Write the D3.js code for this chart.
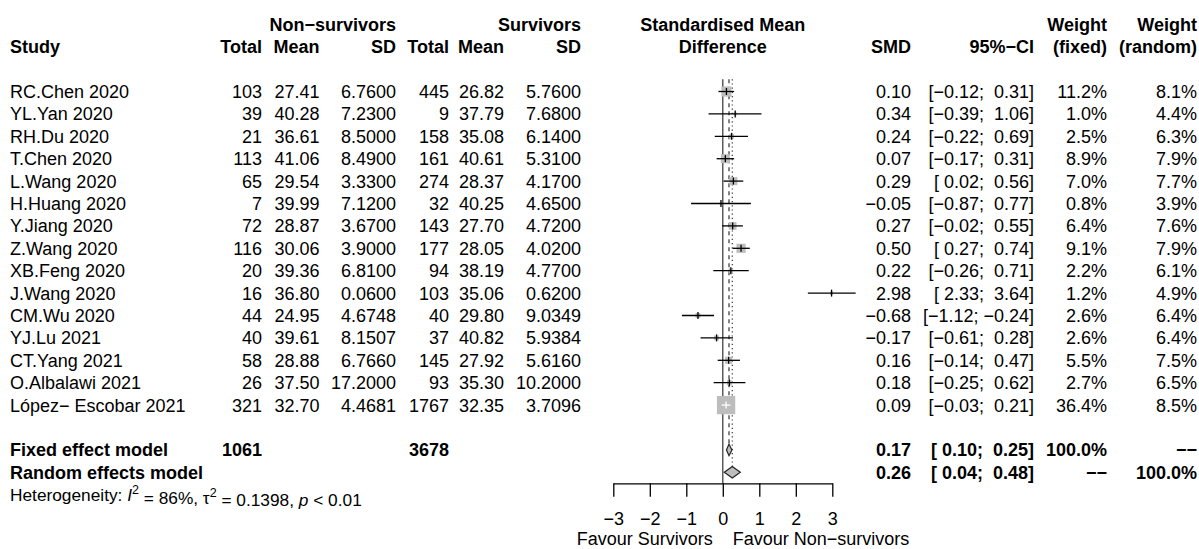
<!DOCTYPE html>
<html><head><meta charset="utf-8">
<script src="https://cdn.jsdelivr.net/npm/d3@7"></script>
<style>
body{margin:0;background:#fff}
text{font-family:"Liberation Sans",Arial,Helvetica,sans-serif;white-space:pre}
</style>
</head><body>
<svg id="c" width="1199" height="549"></svg>
<script>
// ---------- data ----------
const studies = ["RC.Chen 2020","YL.Yan 2020","RH.Du 2020","T.Chen 2020","L.Wang 2020","H.Huang 2020","Y.Jiang 2020","Z.Wang 2020","XB.Feng 2020","J.Wang 2020","CM.Wu 2020","YJ.Lu 2021","CT.Yang 2021","O.Albalawi 2021","López\u2212 Escobar 2021"];
const nonTotal = [103,39,21,113,65,7,72,116,20,16,44,40,58,26,321];
const nonMean  = [27.41,40.28,36.61,41.06,29.54,39.99,28.87,30.06,39.36,36.80,24.95,39.61,28.88,37.50,32.70];
const nonSD    = [6.76,7.23,8.50,8.49,3.33,7.12,3.67,3.90,6.81,0.06,4.6748,8.1507,6.766,17.20,4.4681];
const surTotal = [445,9,158,161,274,32,143,177,94,103,40,37,145,93,1767];
const surMean  = [26.82,37.79,35.08,40.61,28.37,40.25,27.70,28.05,38.19,35.06,29.80,40.82,27.92,35.30,32.35];
const surSD    = [5.76,7.68,6.14,5.31,4.17,4.65,4.72,4.02,4.77,0.62,9.0349,5.9384,5.616,10.20,3.7096];
const smd      = [0.10,0.34,0.24,0.07,0.29,-0.05,0.27,0.50,0.22,2.98,-0.68,-0.17,0.16,0.18,0.09];
const ciLow    = [-0.12,-0.39,-0.22,-0.17,0.02,-0.87,-0.02,0.27,-0.26,2.33,-1.12,-0.61,-0.14,-0.25,-0.03];
const ciHigh   = [0.31,1.06,0.69,0.31,0.56,0.77,0.55,0.74,0.71,3.64,-0.24,0.28,0.47,0.62,0.21];
const weightFixed  = [11.2,1.0,2.5,8.9,7.0,0.8,6.4,9.1,2.2,1.2,2.6,2.6,5.5,2.7,36.4];
const weightRandom = [8.1,4.4,6.3,7.9,7.7,3.9,7.6,7.9,6.1,4.9,6.4,6.4,7.5,6.5,8.5];

const pooledLabels = ["Fixed effect model","Random effects model"];
const pooledNon    = [1061,null];
const pooledSur    = [3678,null];
const pooledSmd    = [0.17,0.26];
const pooledLow    = [0.10,0.04];
const pooledHigh   = [0.25,0.48];
const pooledWFixed = [100.0,null];
const pooledWRandom= [null,100.0];

const hetI2 = 86, hetTau2 = 0.1398, hetP = "< 0.01";
const xTicks = [-3,-2,-1,0,1,2,3];
const labelLeft = "Favour Survivors", labelRight = "Favour Non\u2212survivors";

// ---------- layout ----------
const svg = d3.select("#c");
const FS = 18;
const x = d3.scaleLinear().domain([-3,3]).range([613.3,832.3]);
const y = d3.scaleLinear().domain([0,1]).range([91.5,113.9]); // row index -> centre y
const col = {study:10, nT:262, nM:319.5, nS:396, sT:449, sM:504, sS:581, smd:911, ci:1034, wf:1107, wr:1197};
const sizeScale = d3.scaleSqrt().domain([0,d3.max(weightFixed)]).range([0,18.3]);
const f2 = d3.format(".2f"), f4 = d3.format(".4f"), f1 = d3.format(".1f"), fi = d3.format("d");
const pad5 = s => s.padStart(5," ");
const ciStr = (lo,hi) => "[" + pad5(f2(lo)) + "; " + pad5(f2(hi)) + "]";
const NA = "\u2212\u2212";

function txt(xp, r, s, anchor="end", bold=false, size=FS){
  return svg.append("text").attr("x",xp).attr("y",y(r)).attr("dy","0.36em")
    .attr("text-anchor",anchor).attr("font-size",size)
    .attr("font-weight",bold?"bold":"normal").attr("xml:space","preserve").text(s);
}

// headers
txt(col.nS,-3,"Non\u2212survivors","end",true);
txt(col.sS,-3,"Survivors","end",true);
txt(x(0),-3,"Standardised Mean","middle",true);
txt(col.wf,-3,"Weight","end",true);
txt(col.wr,-3,"Weight","end",true);
txt(col.study,-2,"Study","start",true);
txt(col.nT,-2,"Total","end",true);
txt(col.nM,-2,"Mean","end",true);
txt(col.nS,-2,"SD","end",true);
txt(col.sT,-2,"Total","end",true);
txt(col.sM,-2,"Mean","end",true);
txt(col.sS,-2,"SD","end",true);
txt(x(0),-2,"Difference","middle",true);
txt(col.smd,-2,"SMD","end",true);
txt(col.ci,-2,"95%\u2212CI","end",true);
txt(col.wf,-2,"(fixed)","end",true);
txt(col.wr,-2,"(random)","end",true);

// study rows
studies.forEach((s,i)=>{
  txt(col.study,i,s,"start");
  txt(col.nT,i,fi(nonTotal[i]));
  txt(col.nM,i,f2(nonMean[i]));
  txt(col.nS,i,f4(nonSD[i]));
  txt(col.sT,i,fi(surTotal[i]));
  txt(col.sM,i,f2(surMean[i]));
  txt(col.sS,i,f4(surSD[i]));
  txt(col.smd,i,f2(smd[i]));
  txt(col.ci,i,ciStr(ciLow[i],ciHigh[i]));
  txt(col.wf,i,f1(weightFixed[i])+"%");
  txt(col.wr,i,f1(weightRandom[i])+"%");
});

// pooled rows
pooledLabels.forEach((s,k)=>{
  const r = studies.length + 1 + k;
  txt(col.study,r,s,"start",true);
  if(pooledNon[k]!=null) txt(col.nT,r,fi(pooledNon[k]),"end",true);
  if(pooledSur[k]!=null) txt(col.sT,r,fi(pooledSur[k]),"end",true);
  txt(col.smd,r,f2(pooledSmd[k]),"end",true);
  txt(col.ci,r,ciStr(pooledLow[k],pooledHigh[k]),"end",true);
  txt(col.wf,r,pooledWFixed[k]!=null?f1(pooledWFixed[k])+"%":NA,"end",true);
  txt(col.wr,r,pooledWRandom[k]!=null?f1(pooledWRandom[k])+"%":NA,"end",true);
});

// heterogeneity
const hRow = studies.length + 3;
const ht = svg.append("text").attr("x",col.study).attr("y",y(hRow)).attr("dy","0.36em")
  .attr("font-size",17.3).attr("xml:space","preserve");
ht.append("tspan").text("Heterogeneity: ");
ht.append("tspan").attr("font-style","italic").text("I");
ht.append("tspan").attr("font-size",12.5).attr("dy","-0.55em").text("2");
ht.append("tspan").attr("dy","0.55em").text(" = " + hetI2 + "%, \u03c4");
ht.append("tspan").attr("font-size",12.5).attr("dy","-0.55em").text("2");
ht.append("tspan").attr("dy","0.55em").text(" = " + d3.format(".4f")(hetTau2) + ", ");
ht.append("tspan").attr("font-style","italic").text("p");
ht.append("tspan").text(" " + hetP);

// ---------- plot ----------
const fixedRow = studies.length + 1, randRow = studies.length + 2;
const axisY = y(randRow + 0.49);
const topY = y(-0.55);
const dHalf = 5.8;

const g = svg.append("g");
g.append("line").attr("x1",x(0)).attr("x2",x(0)).attr("y1",topY).attr("y2",axisY)
  .attr("stroke","#333").attr("stroke-width",1.2);
g.append("line").attr("x1",x(pooledSmd[0])).attr("x2",x(pooledSmd[0])).attr("y1",topY).attr("y2",y(fixedRow)-dHalf)
  .attr("stroke","#333").attr("stroke-width",1.2).attr("stroke-dasharray","4,4");
g.append("line").attr("x1",x(pooledSmd[1])).attr("x2",x(pooledSmd[1])).attr("y1",topY).attr("y2",y(randRow)-dHalf)
  .attr("stroke","#333").attr("stroke-width",1.2).attr("stroke-dasharray","1.2,3");

studies.forEach((s,i)=>{
  const cx = x(smd[i]), cy = y(i), side = sizeScale(weightFixed[i]);
  g.append("rect").attr("x",cx-side/2).attr("y",cy-side/2).attr("width",side).attr("height",side)
    .attr("fill","#bdbdbd");
  const inside = x(ciLow[i]) >= cx-side/2 && x(ciHigh[i]) <= cx+side/2;
  const c = inside ? "#fff" : "#000";
  g.append("line").attr("x1",x(ciLow[i])).attr("x2",x(ciHigh[i])).attr("y1",cy).attr("y2",cy)
    .attr("stroke",c).attr("stroke-width",1.3);
  g.append("line").attr("x1",cx).attr("x2",cx).attr("y1",cy-3.5).attr("y2",cy+3.5)
    .attr("stroke",c).attr("stroke-width",1.3);
});

[fixedRow, randRow].forEach((r,k)=>{
  const cy = y(r);
  const pts = [[x(pooledLow[k]),cy],[x(pooledSmd[k]),cy-dHalf],[x(pooledHigh[k]),cy],[x(pooledSmd[k]),cy+dHalf]];
  g.append("path").attr("d","M"+pts.map(p=>p.join(",")).join("L")+"Z")
    .attr("fill","#bdbdbd").attr("stroke","#222").attr("stroke-width",1.2);
});

const ax = svg.append("g").attr("transform",`translate(0,${axisY})`)
  .call(d3.axisBottom(x).tickValues(xTicks).tickSize(13.4).tickPadding(16).tickSizeOuter(0).tickFormat(d3.format("d")));
ax.attr("font-family",null).attr("font-size",null);
ax.selectAll("text").attr("font-size",FS).attr("fill","#000");
ax.selectAll("line").attr("stroke","#000").attr("stroke-width",1.3);
ax.select(".domain").attr("stroke","#000").attr("stroke-width",1.3);

svg.append("text").attr("x",x(0)-10).attr("y",axisY+62).attr("text-anchor","end")
  .attr("font-size",FS).text(labelLeft);
svg.append("text").attr("x",x(0)+10).attr("y",axisY+62).attr("text-anchor","start")
  .attr("font-size",FS).text(labelRight);
</script>
</body></html>
